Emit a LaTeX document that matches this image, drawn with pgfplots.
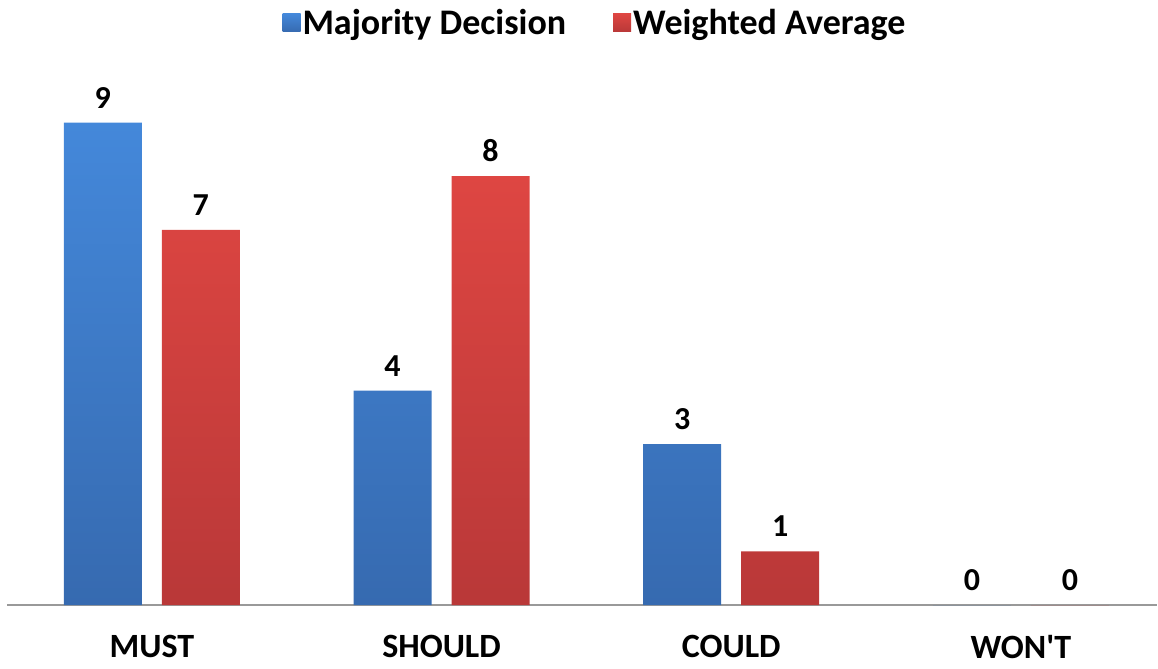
\documentclass[border=0pt]{standalone}
\usepackage{fontspec}
\setmainfont{Carlito}
\usepackage{pgfplots}
\pgfplotsset{compat=1.18}
\definecolor{blueTop}{RGB}{68,136,218}
\definecolor{blueBot}{RGB}{54,106,176}
\definecolor{redTop}{RGB}{222,70,66}
\definecolor{redBot}{RGB}{185,56,56}
\begin{document}
\begin{tikzpicture}
\begin{axis}[
  scale only axis,
  width=1150bp, height=536bp,
  xmin=-0.5, xmax=3.47,
  ymin=0, ymax=10,
  ybar=20bp, bar width=78bp,
  axis x line*=bottom,
  hide y axis,
  axis line style={draw=black!40, line width=1.5bp, -},
  xtick=data,
  xticklabels={MUST,SHOULD,COULD,WON\textquotesingle T},
  xtick style={draw=none},
  x tick label style={font=\fontsize{34bp}{40bp}\selectfont\bfseries, inner sep=0pt, anchor=north, yshift=-26bp},
  /pgf/number format/assume math mode=true,
  nodes near coords,
  every node near coord/.append style={font=\fontsize{32bp}{36bp}\selectfont\bfseries, black, yshift=11bp},
  legend columns=2,
  legend style={draw=none, at={(0.5,1)}, anchor=center, xshift=13bp, yshift=46bp,
    font=\fontsize{36bp}{40bp}\selectfont\bfseries,
    /tikz/every even column/.append style={column sep=45bp}},
  legend image code/.code={\draw[#1, draw=none] (0bp,-9bp) rectangle (18bp,9bp);},
]
\addplot[draw=none, top color=blueTop, bottom color=blueBot] coordinates {(0,9) (1,4) (2,3) (3,0)};
\addplot[draw=none, top color=redTop, bottom color=redBot] coordinates {(0,7) (1,8) (2,1) (3,0)};
\legend{Majority Decision, Weighted Average}
\path (rel axis cs:0,0) ++(-7bp,-63bp) coordinate (bbA);
\path (rel axis cs:1,1) ++(1bp,69bp) coordinate (bbB);
\end{axis}
\pgfresetboundingbox
\useasboundingbox (bbA) rectangle (bbB);
\end{tikzpicture}
\end{document}
